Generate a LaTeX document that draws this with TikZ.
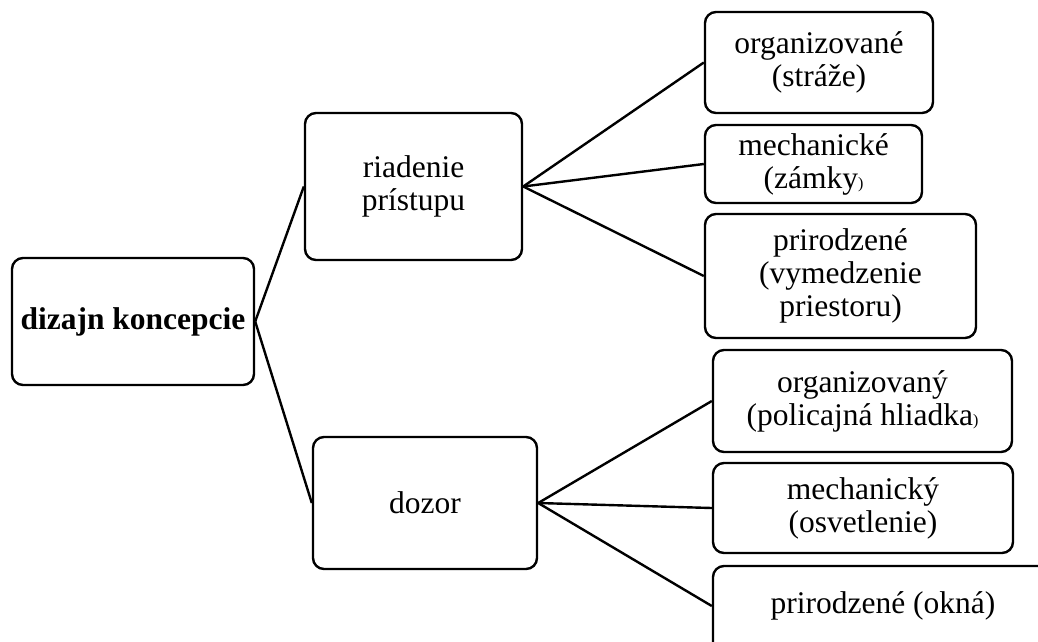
\documentclass[tikz,border=0pt]{standalone}
\usepackage{fontspec}
\setmainfont{Liberation Serif}
\begin{document}
\begin{tikzpicture}[x=1pt,y=-1pt,
  box/.style={draw=black,line width=2.4pt,rounded corners=11pt,align=center,inner sep=0pt,
    font=\fontsize{31.5}{33}\selectfont},
  conn/.style={draw=black,line width=2.4pt}]
\useasboundingbox (0,0) rectangle (1038,641);
\fill[white] (0,0) rectangle (1038,641);
\node[box,minimum width=242pt,minimum height=127pt,font=\fontsize{31.5}{33}\selectfont\bfseries] (root) at (133,321.5) {dizajn koncepcie};
\node[box,minimum width=217pt,minimum height=147pt] (ria) at (413.5,186.5) {riadenie\\prístupu};
\node[box,minimum width=224pt,minimum height=132pt] (doz) at (425,503) {dozor};
\node[box,minimum width=228pt,minimum height=101pt] (o1) at (819,62.5) {organizované\\(stráže)};
\node[box,minimum width=217pt,minimum height=78pt] (m1) at (813.5,164) {mechanické\\(zámky{\fontsize{16}{16}\selectfont)}};
\node[box,minimum width=271pt,minimum height=124pt] (p1) at (840.5,276) {prirodzené\\(vymedzenie\\priestoru)};
\node[box,minimum width=299pt,minimum height=102pt] (o2) at (862.5,401) {organizovaný\\(policajná hliadka{\fontsize{16}{16}\selectfont)}};
\node[box,minimum width=300pt,minimum height=90pt] (m2) at (863,508) {mechanický\\(osvetlenie)};
\node[box,minimum width=340pt,minimum height=94pt] (p2) at (883,613) {};
\node[font=\fontsize{31.5}{33}\selectfont,inner sep=0pt] (p2t) at (883,606) {prirodzené (okná)};
\coordinate (p2w) at (p2.west |- p2t);
\draw[conn] (root.east) -- (ria.west);
\draw[conn] (root.east) -- (doz.west);
\draw[conn] (ria.east) -- (o1.west);
\draw[conn] (ria.east) -- (m1.west);
\draw[conn] (ria.east) -- (p1.west);
\draw[conn] (doz.east) -- (o2.west);
\draw[conn] (doz.east) -- (m2.west);
\draw[conn] (doz.east) -- (p2w);
\end{tikzpicture}
\end{document}
